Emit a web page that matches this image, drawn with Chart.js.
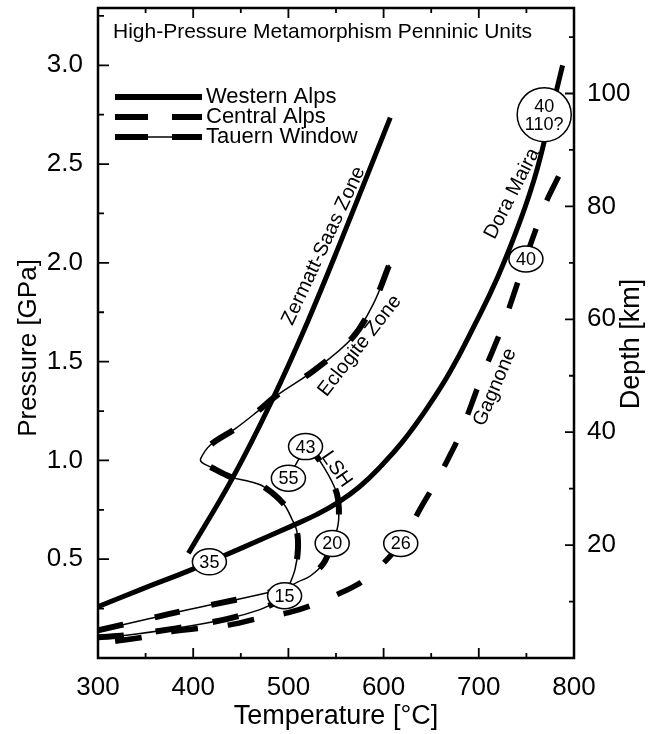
<!DOCTYPE html>
<html>
<head>
<meta charset="utf-8">
<script src="https://cdn.jsdelivr.net/npm/chart.js@4.4.1/dist/chart.umd.min.js"></script>
<style>
  html, body { margin: 0; padding: 0; background: #fff; }
  canvas { display: block; }
</style>
</head>
<body>
<canvas id="myChart" width="657" height="734"></canvas>
<script>
const FONT = '"Liberation Sans", Arial, Helvetica, sans-serif';

// axis ranges
const tMin = 300, tMax = 800;
const pMax = 3.29;
const kmPerGPa = 35;

// Western Alps: Dora Maira path and Zermatt-Saas Zone
const westernT = [300, 344, 397, 450, 502, 530, 553, 575, 597, 620, 645, 670, 695, 720, 744, 758, 767, 781, 788];
const westernP = [0.26, 0.345, 0.445, 0.555, 0.665, 0.727, 0.79, 0.868, 0.97, 1.095, 1.26, 1.45, 1.68, 1.93, 2.22, 2.42, 2.58, 2.86, 3.0];
const zermattT = [395, 442, 483, 520, 556, 607];
const zermattP = [0.53, 0.917, 1.306, 1.70, 2.12, 2.735];

// Central Alps: Gagnone
const centralT = [318, 349, 379, 410, 441, 468, 500, 526, 555, 581, 618, 639, 653, 668, 681, 692, 702, 715, 725, 736, 749, 760, 770, 782, 792];
const centralP = [0.085, 0.106, 0.135, 0.152, 0.17, 0.20, 0.23, 0.27, 0.33, 0.40, 0.58, 0.76, 0.875, 1.01, 1.14, 1.28, 1.41, 1.56, 1.68, 1.83, 2.02, 2.17, 2.30, 2.42, 2.52];

// Tauern Window: Eclogite Zone and Lower Schieferhuelle (LSH)
const eclogiteT = [300, 330, 382, 435, 470, 490, 496, 501, 507, 510, 509, 504, 495, 474, 460, 439, 418, 409, 408, 418, 444, 467, 488, 527, 567, 589, 606];
const eclogiteP = [0.105, 0.115, 0.15, 0.197, 0.245, 0.29, 0.315, 0.37, 0.45, 0.55, 0.64, 0.70, 0.78, 0.867, 0.892, 0.917, 0.967, 0.99, 1.01, 1.078, 1.16, 1.246, 1.33, 1.456, 1.62, 1.79, 1.99];
const lshT = [300, 350, 398, 445, 478, 496, 510, 523, 537, 546, 552, 553, 551, 546, 538, 528, 518];
const lshP = [0.14, 0.195, 0.248, 0.295, 0.33, 0.35, 0.385, 0.415, 0.48, 0.58, 0.67, 0.76, 0.83, 0.89, 0.96, 1.03, 1.07];
const linkT = [518, 500];
const linkP = [1.07, 0.91];

// ages (Ma) in ellipses
const ageText = ['35', '15', '55', '43', '20', '26', '40', '40\n110?'];
const ageT = [417, 496, 500, 518, 546, 618, 749.5, 768.7];
const ageP = [0.487, 0.315, 0.91, 1.07, 0.58, 0.58, 2.02, 2.75];

// unit names along the paths
const zoneText = ['Zermatt-Saas Zone', 'Eclogite Zone', 'Dora Maira', 'Gagnone', 'LSH'];
const zoneT = [537, 575, 735, 717, 550.5];
const zoneP = [2.086, 1.58, 2.35, 1.37, 0.955];
const zoneAngle = [-65, -52, -63, -67, 55];

const legendText = ['Western Alps', 'Central Alps', 'Tauern Window'];
const chartTitle = 'High-Pressure Metamorphism Penninic Units';

function pts(T, P) { return T.map((t, i) => ({ x: t, y: P[i] })); }

function line(data, width, dash, tension) {
  return {
    data: data, showLine: true, pointRadius: 0, fill: false,
    borderColor: '#000', borderWidth: width, borderDash: dash || [],
    borderCapStyle: 'butt', tension: tension || 0.35
  };
}

const decor = {
  id: 'decor',
  afterDatasetsDraw(chart) {
    const { ctx, chartArea: a, scales: { x, y, y2 } } = chart;
    ctx.save();
    ctx.strokeStyle = '#000';
    ctx.fillStyle = '#000';

    // ticks, pointing inward
    ctx.lineWidth = 1.8;
    ctx.beginPath();
    for (let v = tMin; v <= tMax; v += 50) {
      const px = x.getPixelForValue(v);
      const len = v % 100 === 0 ? 10 : 5;
      ctx.moveTo(px, a.bottom); ctx.lineTo(px, a.bottom - len);
      ctx.moveTo(px, a.top); ctx.lineTo(px, a.top + len);
    }
    for (let i = 1; i * 0.25 < pMax; i++) {
      const py = y.getPixelForValue(i * 0.25);
      const len = i % 2 === 0 ? 11 : 6;
      ctx.moveTo(a.left, py); ctx.lineTo(a.left + len, py);
    }
    for (let v = 10; v < pMax * kmPerGPa; v += 10) {
      const py = y2.getPixelForValue(v);
      const len = v % 20 === 0 ? 9 : 5;
      ctx.moveTo(a.right, py); ctx.lineTo(a.right - len, py);
    }
    ctx.stroke();

    // frame
    ctx.lineWidth = 2.5;
    ctx.strokeRect(a.left, a.top, a.right - a.left, a.bottom - a.top);

    // unit names
    ctx.font = '20px ' + FONT;
    ctx.textAlign = 'center';
    ctx.textBaseline = 'middle';
    zoneText.forEach((t, i) => {
      ctx.save();
      ctx.translate(x.getPixelForValue(zoneT[i]), y.getPixelForValue(zoneP[i]));
      ctx.rotate(zoneAngle[i] * Math.PI / 180);
      ctx.fillText(t, 0, 0);
      ctx.restore();
    });

    // age ellipses
    ctx.font = '18px ' + FONT;
    ctx.lineWidth = 1.5;
    ageText.forEach((t, i) => {
      const px = x.getPixelForValue(ageT[i]);
      const py = y.getPixelForValue(ageP[i]);
      const rows = t.split('\n');
      let rx, ry;
      if (rows.length > 1) { rx = 27; ry = 27; }
      else { rx = Math.max(ctx.measureText(t).width / 2 + 7, 15); ry = 13; }
      ctx.beginPath();
      ctx.ellipse(px, py, rx, ry, 0, 0, Math.PI * 2);
      ctx.fillStyle = '#fff';
      ctx.fill();
      ctx.stroke();
      ctx.fillStyle = '#000';
      rows.forEach((r, k) => ctx.fillText(r, px, py + (k - (rows.length - 1) / 2) * 18 + 1));
    });

    // title
    ctx.textAlign = 'left';
    ctx.font = '21px ' + FONT;
    ctx.fillText(chartTitle, a.left + 15, a.top + 24);

    // legend
    const lx0 = a.left + 17, lx1 = a.left + 104, ly = a.top + 89;
    ctx.font = '22px ' + FONT;
    legendText.forEach((t, i) => {
      const yy = ly + i * 20;
      ctx.beginPath();
      ctx.lineWidth = 6;
      if (i === 0) { ctx.moveTo(lx0, yy); ctx.lineTo(lx1, yy); }
      else { ctx.moveTo(lx0, yy); ctx.lineTo(lx0 + 33, yy); ctx.moveTo(lx1 - 30, yy); ctx.lineTo(lx1, yy); }
      ctx.stroke();
      if (i === 2) {
        ctx.beginPath(); ctx.lineWidth = 1.5;
        ctx.moveTo(lx0 + 30, yy); ctx.lineTo(lx1 - 28, yy); ctx.stroke();
      }
      ctx.fillText(t, lx1 + 4, yy);
    });

    // axis titles on the sides
    ctx.textAlign = 'center';
    ctx.save();
    ctx.font = '26px ' + FONT;
    ctx.translate(29, 348);
    ctx.rotate(-Math.PI / 2);
    ctx.fillText('Pressure [GPa]', 0, 0);
    ctx.restore();
    ctx.save();
    ctx.font = '27px ' + FONT;
    ctx.translate(632, 344);
    ctx.rotate(-Math.PI / 2);
    ctx.fillText('Depth [km]', 0, 0);
    ctx.restore();

    ctx.restore();
  }
};

const tickFont = { family: FONT, size: 26 };

new Chart(document.getElementById('myChart').getContext('2d'), {
  type: 'scatter',
  data: {
    datasets: [
      line(pts(westernT, westernP), 5, null, 0.45),
      line(pts(zermattT, zermattP), 5, null, 0.4),
      line(pts(centralT, centralP), 5.5, [27, 30], 0.4),
      line(pts(eclogiteT, eclogiteP), 1.5),
      line(pts(eclogiteT, eclogiteP), 6, [26, 32]),
      line(pts(lshT, lshP), 1.5),
      line(pts(lshT, lshP), 6, [26, 32]),
      line(pts(linkT, linkP), 1.5)
    ]
  },
  options: {
    responsive: false,
    devicePixelRatio: 1,
    animation: false,
    layout: { padding: { top: 8, left: 0, right: 0, bottom: 0 } },
    plugins: { legend: { display: false }, tooltip: { enabled: false } },
    scales: {
      x: {
        type: 'linear', position: 'bottom', min: tMin, max: tMax,
        grid: { display: false, drawTicks: false }, border: { display: false },
        ticks: { stepSize: 100, padding: 14, color: '#000', font: tickFont, autoSkip: false, maxRotation: 0 },
        title: { display: true, text: 'Temperature [°C]', color: '#000', font: { family: FONT, size: 27 }, padding: { top: 0, bottom: 1 } },
        afterFit: s => { s.height = 76; s.paddingLeft = 0; s.paddingRight = 0; }
      },
      y: {
        type: 'linear', position: 'left', min: 0, max: pMax,
        grid: { display: false, drawTicks: false }, border: { display: false },
        ticks: { stepSize: 0.5, includeBounds: false, padding: 15, color: '#000', font: tickFont, autoSkip: false,
          callback: v => v > 0 ? v.toFixed(1) : '' },
        afterFit: s => { s.width = 98; s.paddingTop = 0; s.paddingBottom = 0; }
      },
      y2: {
        type: 'linear', position: 'right', min: 0, max: pMax * kmPerGPa,
        grid: { display: false, drawTicks: false }, border: { display: false },
        ticks: { stepSize: 20, includeBounds: false, padding: 13, color: '#000', font: tickFont, autoSkip: false,
          callback: v => v > 0 ? v : '' },
        afterFit: s => { s.width = 83; s.paddingTop = 0; s.paddingBottom = 0; }
      }
    }
  },
  plugins: [decor]
});
</script>
</body>
</html>
